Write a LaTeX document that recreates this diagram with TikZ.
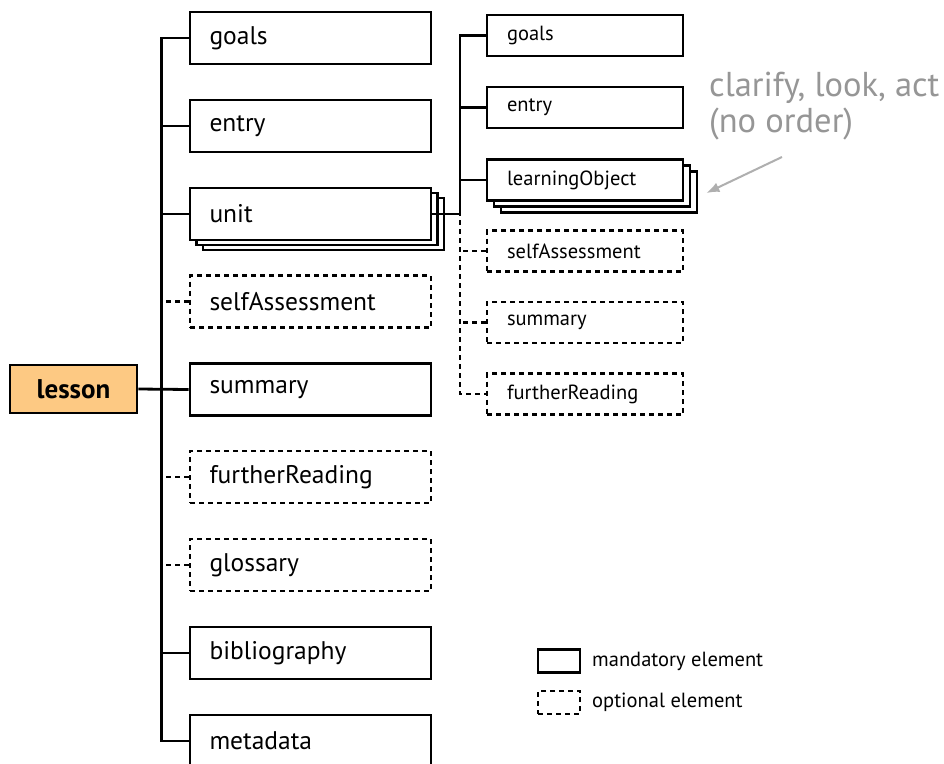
\documentclass[tikz,border=0pt]{standalone}
\usepackage{fontspec}
\setmainfont{PT Sans}
\usetikzlibrary{arrows.meta}

\definecolor{lessonfill}{RGB}{253,201,131}
\definecolor{notegray}{RGB}{150,150,150}
\definecolor{arrowgray}{RGB}{175,175,175}

\tikzset{
  elem/.style={draw, line width=2.8pt, fill=white, rectangle, anchor=center,
    align=left, inner xsep=0pt, inner ysep=0pt},
  big/.style={elem, minimum width=241pt, minimum height=52pt,
    text width=202pt, font=\fontsize{25.5}{28}\selectfont},
  small/.style={elem, minimum width=196pt, minimum height=41pt,
    text width=156pt, font=\fontsize{20.5}{23}\selectfont},
  opt/.style={dash pattern=on 5pt off 4pt, line width=2.6pt},
  link/.style={line width=2.8pt},
  optlink/.style={line width=2.6pt, dash pattern=on 5pt off 4pt},
  legendbox/.style={draw, line width=2.8pt, minimum width=42pt, minimum height=23pt, inner sep=0pt},
  legendtext/.style={anchor=west, inner sep=0pt, font=\fontsize{20.5}{23}\selectfont},
}

\begin{document}
\begin{tikzpicture}[x=1pt, y=-1pt]
  \clip (0,0) rectangle (944,763);
  \fill[white] (0,0) rectangle (944,763);

  % root element
  \node[draw, line width=2.8pt, fill=lessonfill, minimum width=127pt, minimum height=48pt,
        inner sep=0pt, font=\fontsize{27}{30}\selectfont\bfseries] (lesson) at (73.5,389) {lesson};

  % children of lesson
  \node[big]      (goals)   at (310.5,38)  {goals};
  \node[big]      (entry)   at (310.5,126) {entry};
  % stacked unit boxes
  \node[big, text=white] (unitC) at (323.5,224) {\phantom{unit}};
  \node[big, text=white] (unitB) at (317,219)   {\phantom{unit}};
  \node[big]      (unit)    at (310.5,214) {unit};
  \node[big, opt] (selfA)   at (310.5,301.5) {selfAssessment};
  \node[big]      (summary) at (310.5,389.5) {summary};
  \node[big, opt] (further) at (310.5,477) {furtherReading};
  \node[big, opt] (gloss)   at (310.5,565) {glossary};
  \node[big]      (biblio)  at (310.5,653) {bibliography};
  \node[big]      (meta)    at (310.5,741) {metadata};

  % children of unit
  \node[small]      (ugoals)   at (585,35.5)  {goals};
  \node[small]      (uentry)   at (585,107.5) {entry};
  \node[small, text=white] (uloC) at (599,192) {\phantom{x}};
  \node[small, text=white] (uloB) at (592,186) {\phantom{x}};
  \node[small]      (ulo)      at (585,180)   {learningObject};
  \node[small, opt] (uselfA)   at (585,251)   {selfAssessment};
  \node[small, opt] (usummary) at (585,322.5) {summary};
  \node[small, opt] (ufurther) at (585,394)   {furtherReading};

  % connectors of lesson
  \coordinate (ltop) at ([xshift=-27pt]goals.west);
  \coordinate (lbot) at ([xshift=-27pt]meta.west);
  \draw[link] (goals.west) -- (ltop) -- (lbot) -- (meta.west);
  \draw[link] (lesson.east) -- (summary.west);
  \foreach \n in {entry, unit, biblio}
    \draw[link] (\n.west) -- ++(-27pt,0);
  \foreach \n in {selfA, further, gloss}
    \draw[optlink] (\n.west) -- ++(-27pt,0);

  % connectors of unit
  \coordinate (rj) at (460,214);
  \draw[link] (unit.east) -- (rj);
  \draw[link] (rj) |- (ugoals.west);
  \draw[link] (uentry.west) -- (uentry.west -| rj);
  \draw[link] (ulo.west) -- (ulo.west -| rj);
  \draw[optlink] ([yshift=3pt]rj) |- (ufurther.west);
  \draw[optlink] (uselfA.west) -- (uselfA.west -| rj);
  \draw[optlink] (usummary.west) -- (usummary.west -| rj);

  % note on learning objects
  \node[anchor=north west, inner sep=0pt, align=left, text=notegray,
        font=\fontsize{34.5}{36}\selectfont] (note) at (709,72)
        {clarify, look, act\\(no order)};
  \coordinate (notetail) at (782,157);
  \draw[arrowgray, line width=2pt, -{Latex[length=13pt, width=10pt]}]
       (notetail) -- ([xshift=8pt, yshift=-1pt]uloC.east);

  % legend
  \node[legendbox] (lmand) at (559,661) {};
  \node[legendbox, opt] (lopt) at (559,702.5) {};
  \node[legendtext] (lmandt) at (592,661) {mandatory element};
  \node[legendtext] (loptt)  at (592,702.5) {optional element};
\end{tikzpicture}
\end{document}
